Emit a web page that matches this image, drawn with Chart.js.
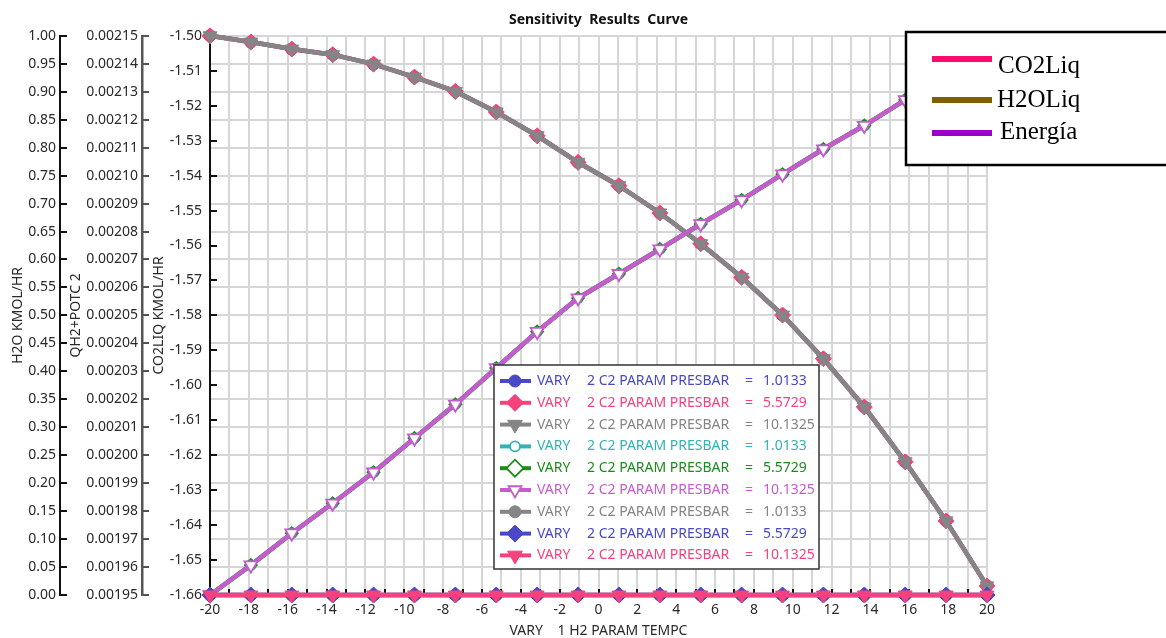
<!DOCTYPE html>
<html>
<head>
<meta charset="utf-8">
<title>Sensitivity Results Curve</title>
<script src="https://cdn.jsdelivr.net/npm/chart.js"></script>
<style>
	html, body { margin: 0; padding: 0; background: #fff; }
	#wrap { width: 1166px; height: 638px; position: relative; }
</style>
</head>
<body>
<div id="wrap"><canvas id="mycanvas"></canvas></div>
<script>
// sensitivity variable (H2 temperature, C)
var temps = [-20, -17.895, -15.789, -13.684, -11.579, -9.474, -7.368, -5.263, -3.158, -1.053,
	1.053, 3.158, 5.263, 7.368, 9.474, 11.579, 13.684, 15.789, 17.895, 20];

// results, same for the three pressures
var co2Liq = [-1.5000, -1.5018, -1.5038, -1.5054, -1.5081, -1.5118, -1.5159, -1.5218, -1.5286, -1.5362,
	-1.5429, -1.5507, -1.5595, -1.5691, -1.5799, -1.5924, -1.6062, -1.6219, -1.6388, -1.6574];
var qh2Potc = [0.001950, 0.0019607, 0.0019721, 0.0019828, 0.0019939, 0.0020061, 0.0020182, 0.0020312, 0.0020442, 0.0020562,
	0.0020649, 0.0020737, 0.0020827, 0.0020913, 0.0021005, 0.0021095, 0.0021179, 0.0021271, 0.0021361, 0.0021446];
var h2oLiq = [0, 0, 0, 0, 0, 0, 0, 0, 0, 0, 0, 0, 0, 0, 0, 0, 0, 0, 0, 0];

var pressures = ['1.0133', '5.5729', '10.1325'];

var tempLabels = [-20, -18, -16, -14, -12, -10, -8, -6, -4, -2, 0, 2, 4, 6, 8, 10, 12, 14, 16, 18, 20];
var h2oTicks = [0, 0.05, 0.1, 0.15, 0.2, 0.25, 0.3, 0.35, 0.4, 0.45, 0.5, 0.55, 0.6, 0.65, 0.7, 0.75, 0.8, 0.85, 0.9, 0.95, 1];
var qh2Ticks = [0.00195, 0.00196, 0.00197, 0.00198, 0.00199, 0.00200, 0.00201, 0.00202, 0.00203, 0.00204, 0.00205,
	0.00206, 0.00207, 0.00208, 0.00209, 0.00210, 0.00211, 0.00212, 0.00213, 0.00214, 0.00215];
var co2Ticks = [-1.66, -1.65, -1.64, -1.63, -1.62, -1.61, -1.60, -1.59, -1.58, -1.57, -1.56, -1.55, -1.54, -1.53, -1.52, -1.51, -1.50];

var extraNames = ['CO2Liq', 'H2OLiq', 'Energía'];
var extraColors = ['#ff0a6c', '#7f5f00', '#9b00cc'];

var BLUE = '#4848c8', PINK = '#f5427c', GRAY = '#858585', CYAN = '#33b3b3', GREEN = '#1c8c1c', MAGENTA = '#c55ccc';

// r = marker radius on the plot, lr = radius in the key
var series = [
	{ data: co2Liq, axis: 'co2', p: 0, color: BLUE, style: 'circle', r: 6, lr: 6, open: false, rot: 0 },
	{ data: co2Liq, axis: 'co2', p: 1, color: PINK, style: 'rectRot', r: 8, lr: 8.5, open: false, rot: 0 },
	{ data: co2Liq, axis: 'co2', p: 2, color: GRAY, style: 'triangle', r: 8, lr: 8.5, open: false, rot: 180 },
	{ data: qh2Potc, axis: 'qh2', p: 0, color: CYAN, style: 'circle', r: 5, lr: 5, open: true, rot: 0 },
	{ data: qh2Potc, axis: 'qh2', p: 1, color: GREEN, style: 'rectRot', r: 6, lr: 8.5, open: true, rot: 0 },
	{ data: qh2Potc, axis: 'qh2', p: 2, color: MAGENTA, style: 'triangle', r: 7.5, lr: 7.5, open: true, rot: 180 },
	{ data: h2oLiq, axis: 'h2o', p: 0, color: GRAY, style: 'circle', r: 6, lr: 6, open: false, rot: 0 },
	{ data: h2oLiq, axis: 'h2o', p: 1, color: BLUE, style: 'rectRot', r: 8, lr: 8.5, open: false, rot: 0 },
	{ data: h2oLiq, axis: 'h2o', p: 2, color: PINK, style: 'triangle', r: 8, lr: 8.5, open: false, rot: 180 }
];

var datasets = series.map(function(s, i) {
	return {
		label: 'VARY 2 C2 PARAM PRESBAR = ' + pressures[s.p],
		data: temps.map(function(t, k) { return { x: t, y: s.data[k] }; }),
		yAxisID: s.axis,
		borderColor: s.color,
		borderWidth: 4.5,
		pointStyle: s.style,
		pointRadius: s.r,
		pointRotation: s.rot,
		pointBackgroundColor: s.open ? '#fff' : s.color,
		pointBorderColor: s.color,
		pointBorderWidth: s.open ? 1.8 : 1,
		tension: 0,
		clip: false,
		order: series.length - 1 - i
	};
});

Chart.defaults.font.family = "'Noto Sans', sans-serif";
Chart.defaults.font.size = 14;
Chart.defaults.color = '#2a2a2a';

function marker(ctx, s, x, y) {
	ctx.fillStyle = s.open ? '#fff' : s.color;
	ctx.strokeStyle = s.color;
	ctx.lineWidth = s.open ? 1.8 : 1;
	Chart.helpers.drawPoint(ctx, { pointStyle: s.style, radius: s.lr, rotation: s.rot, borderWidth: ctx.lineWidth }, x, y);
}

var overlay = {
	id: 'overlay',
	beforeDatasetsDraw: function(chart) {
		var ctx = chart.ctx, area = chart.chartArea;
		ctx.save();
		// small ticks pointing right of each y axis line
		[['h2o', '#111'], ['qh2', '#555'], ['co2', '#111']].forEach(function(a) {
			var sc = chart.scales[a[0]];
			ctx.strokeStyle = a[1];
			ctx.lineWidth = 2;
			sc.ticks.forEach(function(t) {
				var y = Math.round(sc.getPixelForValue(t.value));
				ctx.beginPath();
				ctx.moveTo(sc.right, y);
				ctx.lineTo(sc.right + 7, y);
				ctx.stroke();
			});
		});
		var xs = chart.scales.x;
		ctx.strokeStyle = '#111';
		xs.ticks.forEach(function(t) {
			var x = Math.round(xs.getPixelForValue(t.value));
			ctx.beginPath();
			ctx.moveTo(x, area.bottom);
			ctx.lineTo(x, area.bottom - 6);
			ctx.stroke();
		});
		ctx.restore();
	},
	afterDraw: function(chart) {
		var ctx = chart.ctx;
		ctx.save();

		// pressure legend box
		var bx = 494, by = 365, bw = 325, bh = 204;
		ctx.fillStyle = '#fff';
		ctx.fillRect(bx, by, bw, bh);
		ctx.strokeStyle = '#333';
		ctx.lineWidth = 1.5;
		ctx.strokeRect(bx, by, bw, bh);
		ctx.font = "14px 'Noto Sans', sans-serif";
		ctx.textBaseline = 'middle';
		series.forEach(function(s, i) {
			var y = by + 16 + i * 21.8;
			ctx.strokeStyle = s.color;
			ctx.lineWidth = 4;
			ctx.beginPath();
			ctx.moveTo(bx + 6, y);
			ctx.lineTo(bx + 37, y);
			ctx.stroke();
			marker(ctx, s, bx + 21, y);
			ctx.fillStyle = s.color;
			ctx.textAlign = 'left';
			ctx.fillText('VARY', bx + 43, y);
			ctx.fillText('2 C2 PARAM PRESBAR', bx + 93, y);
			ctx.fillText('=', bx + 251, y);
			ctx.fillText(pressures[s.p], bx + 269, y);
		});

		// variable key, top right
		ctx.fillStyle = '#fff';
		ctx.fillRect(906, 32, 270, 133);
		ctx.strokeStyle = '#000';
		ctx.lineWidth = 2.5;
		ctx.strokeRect(906, 32, 270, 133);
		var rows = [59, 100, 133], base = [73, 107, 139], tx = [998, 997, 1000];
		ctx.font = "25px 'Liberation Serif', 'Times New Roman', serif";
		ctx.textBaseline = 'alphabetic';
		extraNames.forEach(function(n, i) {
			ctx.fillStyle = extraColors[i];
			ctx.fillRect(932, rows[i] - 3, 60, 6);
			ctx.fillStyle = '#000';
			ctx.fillText(n, tx[i], base[i]);
		});
		ctx.restore();
	}
};

function fixWidth(w) {
	return function(scale) { scale.width = w; };
}
function setTicks(list) {
	return function(scale) { scale.ticks = list.map(function(v) { return { value: v }; }); };
}

var ctx = document.getElementById('mycanvas');
var chart = new Chart(ctx, {
	type: 'line',
	data: { datasets: datasets },
	plugins: [overlay],
	options: {
		responsive: true,
		maintainAspectRatio: false,
		animation: false,
		layout: { padding: { left: 0, right: 179, top: 0, bottom: 0 } },
		plugins: {
			legend: { display: false },
			tooltip: { enabled: false },
			title: {
				display: true,
				text: 'Sensitivity  Results  Curve',
				fullSize: false,
				color: '#111',
				font: { size: 14, weight: 'bold' },
				padding: { top: 12, bottom: 7 }
			}
		},
		scales: {
			x: {
				type: 'linear',
				min: -20,
				max: 20,
				afterFit: function(scale) { scale.height = 43; },
				ticks: {
					stepSize: 1,
					padding: 7,
					autoSkip: false,
					maxRotation: 0,
					callback: function(v) { return tempLabels.indexOf(v) >= 0 ? String(v) : ''; }
				},
				grid: { color: '#d6d6d6', lineWidth: 2, drawTicks: false },
				border: { color: '#111', width: 2 },
				title: { display: true, text: 'VARY    1 H2 PARAM TEMPC', font: { size: 14, lineHeight: 1 }, padding: 0 }
			},
			h2o: {
				position: 'left',
				weight: 2,
				min: 0,
				max: 1,
				afterBuildTicks: setTicks(h2oTicks),
				afterFit: fixWidth(60),
				ticks: { padding: 4, callback: function(v) { return v.toFixed(2); } },
				grid: { color: '#d6d6d6', lineWidth: 2, drawTicks: false },
				border: { color: '#111', width: 2 },
				title: { display: true, text: 'H2O KMOL/HR', font: { size: 14 }, padding: { top: 10, bottom: 0 } }
			},
			qh2: {
				position: 'left',
				weight: 1,
				min: 0.00195,
				max: 0.00215,
				afterBuildTicks: setTicks(qh2Ticks),
				afterFit: fixWidth(82),
				ticks: { padding: 4, callback: function(v) { return v.toFixed(5); } },
				grid: { drawOnChartArea: false, drawTicks: false },
				border: { color: '#555', width: 2.5 },
				title: { display: true, text: 'QH2+POTC 2', font: { size: 14 }, padding: { top: 8, bottom: 0 } }
			},
			co2: {
				position: 'left',
				weight: 0,
				min: -1.66,
				max: -1.50,
				afterBuildTicks: setTicks(co2Ticks),
				afterFit: fixWidth(68),
				ticks: { padding: 8, callback: function(v) { return v.toFixed(2); } },
				grid: { drawOnChartArea: false, drawTicks: false },
				border: { color: '#111', width: 2 },
				title: { display: true, text: 'CO2LIQ KMOL/HR', font: { size: 14 }, padding: { top: 9, bottom: 0 } }
			}
		}
	}
});
</script>
</body>
</html>
